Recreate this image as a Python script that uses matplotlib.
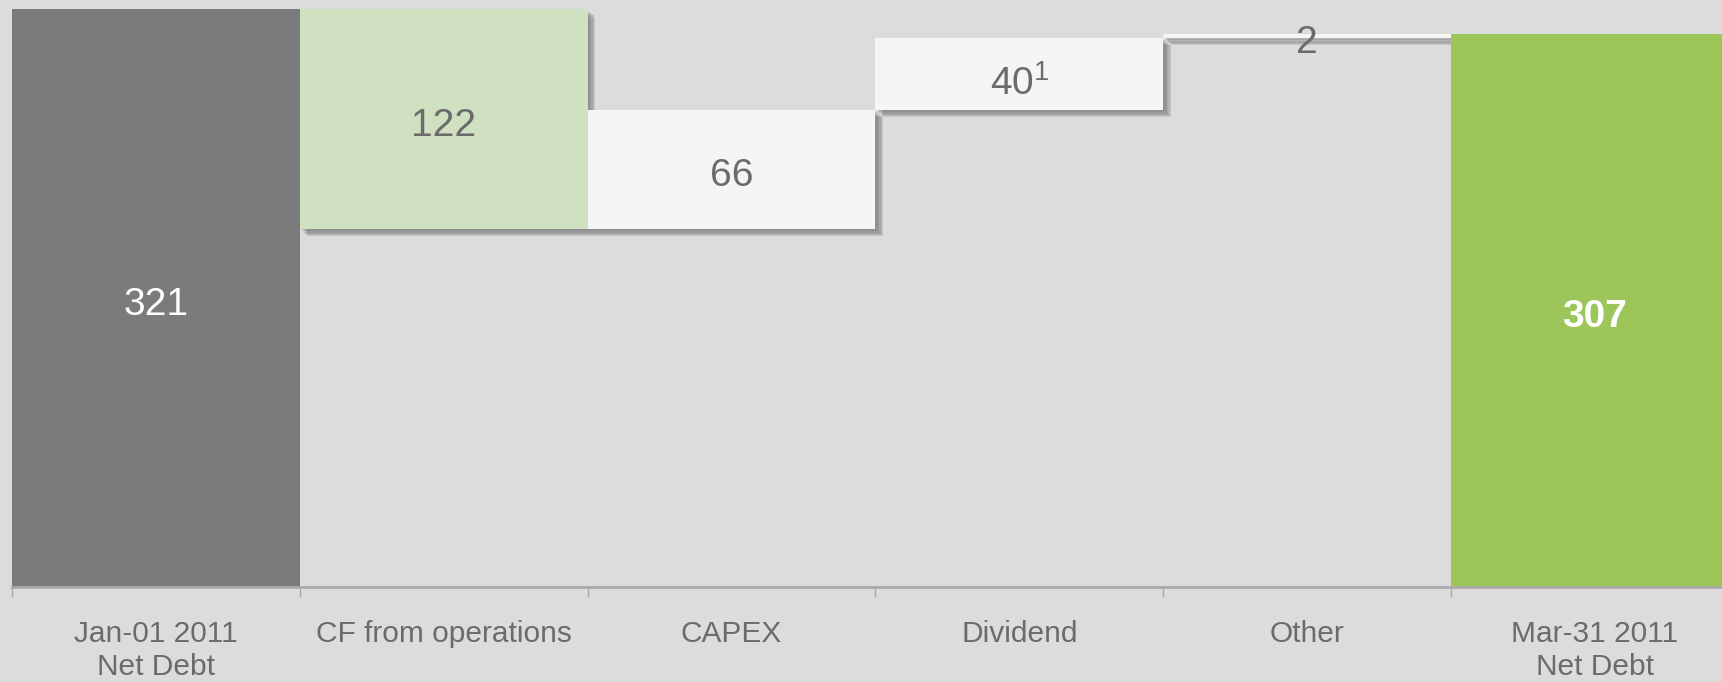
import matplotlib
matplotlib.use("Agg")
import matplotlib.pyplot as plt
import matplotlib.patheffects as pe
import numpy as np

# datos del puente de deuda neta
categorias = ["Jan-01 2011\nNet Debt", "CF from operations", "CAPEX",
              "Dividend", "Other", "Mar-31 2011\nNet Debt"]
deuda_inicial = 321
variaciones = [-122, 66, 40, 2]
deuda_final = 307
etiquetas = ["321", "122", "66", r"40$^{\mathregular{1}}$", "2", "307"]

FONDO = "#dcdcdc"
GRIS_TEXTO = "#6b6b6b"

plt.rcParams["font.family"] = ["Liberation Sans", "DejaVu Sans"]
plt.rcParams["mathtext.fontset"] = "custom"
plt.rcParams["mathtext.rm"] = "Liberation Sans"

fig = plt.figure(figsize=(17.22, 6.82), dpi=100, facecolor=FONDO)
ax = fig.add_axes([12 / 1722, 95 / 682, 1 - 12 / 1722, 587 / 682])
ax.set_facecolor(FONDO)

# bases y alturas de las barras flotantes
acumulado = np.cumsum([deuda_inicial] + variaciones)
bases = [0]
alturas = [deuda_inicial]
for i, v in enumerate(variaciones):
    bases.append(min(acumulado[i], acumulado[i + 1]))
    alturas.append(abs(v))
bases.append(0)
alturas.append(deuda_final)

colores = ["#7b7b7d", "#cfe1c1", "#f5f5f5", "#f5f5f5", "#f5f5f5", "#9dc65a"]
x = np.arange(len(categorias))

# sombra difuminada: varias capas desplazadas
sombra = [pe.SimplePatchShadow(offset=(d, -d), shadow_rgbFace="#6e6e6e", alpha=0.2)
          for d in (5.5, 4.6, 3.7, 2.8, 1.9)] + [pe.Normal()]

for i in range(len(categorias)):
    barra = ax.bar(x[i], alturas[i], bottom=bases[i], width=1.0,
                   color=colores[i], zorder=2 + i, linewidth=0)
    if 0 < i < len(categorias) - 1:
        for p in barra:
            p.set_path_effects(sombra)

# etiquetas de valor
for i, txt in enumerate(etiquetas):
    yc = bases[i] + alturas[i] / 2 - 1.5
    color = GRIS_TEXTO
    peso = "normal"
    if i == 0:
        color = "white"
    elif i == len(categorias) - 1:
        color = "white"
        peso = "bold"
    if i == 3:
        yc -= 2
    ax.text(x[i], yc, txt, ha="center", va="center_baseline", fontsize=28,
            color=color, fontweight=peso, zorder=20)

ax.set_xlim(-0.5, -0.5 + (1722 - 12) / 287.8)
ax.set_ylim(0, 326)

for s in ["top", "right", "left"]:
    ax.spines[s].set_visible(False)
ax.spines["bottom"].set_color("#aaaaaa")
ax.spines["bottom"].set_linewidth(2)
ax.spines["bottom"].set_zorder(30)
ax.set_yticks([])

ax.set_xticks(x)
ax.set_xticklabels(categorias, fontsize=21.5, color=GRIS_TEXTO, linespacing=1.22)
ax.tick_params(axis="x", which="major", length=0, pad=24)
ax.set_xticks(np.arange(len(categorias)) - 0.5, minor=True)
ax.tick_params(axis="x", which="minor", length=7, width=1, color="#aaaaaa")

fig.savefig("out.png", dpi=100, facecolor=FONDO)
